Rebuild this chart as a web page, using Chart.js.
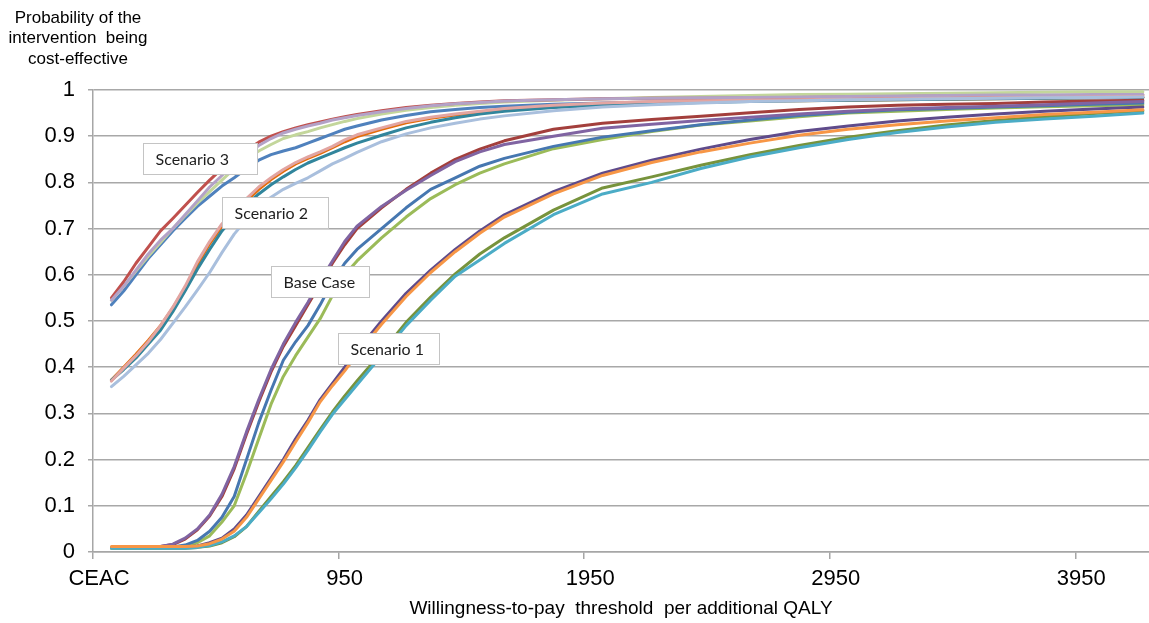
<!DOCTYPE html>
<html>
<head>
<meta charset="utf-8">
<script src="https://cdn.jsdelivr.net/npm/chart.js@4.4.1/dist/chart.umd.min.js"></script>
<style>
html,body{margin:0;padding:0;background:#fff;}
#wrap{width:1149px;height:623px;position:relative;}
</style>
</head>
<body>
<div id="wrap"><canvas id="c" width="1149" height="623"></canvas></div>
<script>
// Willingness-to-pay thresholds (x values)
const thresholds = [0,50,100,150,200,250,300,350,400,450,500,550,600,650,700,750,800,850,900,950,1000,1100,1200,1300,1400,1500,1600,1800,2000,2200,2400,2600,2800,3000,3200,3400,3600,3800,4000,4200];

// Axis tick labels (category centre values) and their labels
const xTickValues = [-50, 950, 1950, 2950, 3950];
const xTickLabels = ['CEAC', '950', '1950', '2950', '3950'];
const yTickValues = [0,0.1,0.2,0.3,0.4,0.5,0.6,0.7,0.8,0.9,1];
const yTickLabels = ['0','0.1','0.2','0.3','0.4','0.5','0.6','0.7','0.8','0.9','1'];

// Base Case
const baseRed    = [0.01,0.01,0.01,0.01,0.012,0.016,0.028,0.048,0.078,0.12,0.18,0.255,0.325,0.39,0.445,0.49,0.535,0.58,0.625,0.665,0.70,0.745,0.785,0.82,0.85,0.872,0.89,0.915,0.928,0.936,0.943,0.951,0.958,0.963,0.967,0.969,0.971,0.974,0.976,0.978];
const basePurple = [0.01,0.01,0.01,0.01,0.012,0.017,0.03,0.05,0.08,0.125,0.185,0.26,0.33,0.395,0.45,0.497,0.54,0.587,0.63,0.672,0.705,0.748,0.783,0.815,0.845,0.866,0.882,0.90,0.917,0.926,0.934,0.941,0.948,0.954,0.959,0.962,0.965,0.968,0.972,0.975];
const baseBlue   = [0.01,0.01,0.01,0.01,0.01,0.011,0.015,0.025,0.045,0.075,0.12,0.20,0.28,0.35,0.415,0.455,0.49,0.535,0.585,0.625,0.655,0.70,0.745,0.785,0.81,0.835,0.852,0.878,0.898,0.912,0.925,0.935,0.945,0.952,0.957,0.96,0.963,0.966,0.969,0.972];
const baseGreen  = [0.01,0.01,0.01,0.01,0.01,0.01,0.012,0.02,0.035,0.065,0.10,0.17,0.245,0.32,0.38,0.425,0.465,0.505,0.555,0.60,0.63,0.68,0.725,0.765,0.795,0.82,0.84,0.873,0.893,0.91,0.924,0.933,0.942,0.95,0.954,0.958,0.961,0.964,0.966,0.968];

// Scenario 1
const s1Purple = [0.01,0.01,0.01,0.01,0.01,0.01,0.011,0.013,0.02,0.03,0.05,0.08,0.12,0.16,0.20,0.245,0.285,0.33,0.365,0.40,0.435,0.50,0.56,0.61,0.655,0.695,0.73,0.78,0.82,0.848,0.872,0.893,0.91,0.922,0.933,0.941,0.948,0.954,0.959,0.963];
const s1Orange = [0.012,0.012,0.012,0.012,0.012,0.012,0.012,0.013,0.018,0.028,0.045,0.075,0.115,0.155,0.195,0.238,0.28,0.325,0.36,0.392,0.428,0.493,0.553,0.605,0.65,0.69,0.725,0.775,0.815,0.843,0.866,0.885,0.902,0.915,0.925,0.933,0.94,0.947,0.952,0.957];
const s1Olive  = [0.008,0.008,0.008,0.008,0.008,0.008,0.008,0.01,0.013,0.02,0.033,0.055,0.088,0.12,0.152,0.187,0.226,0.265,0.303,0.338,0.37,0.432,0.497,0.552,0.602,0.645,0.68,0.74,0.788,0.812,0.837,0.86,0.88,0.898,0.912,0.924,0.934,0.942,0.949,0.955];
const s1Cyan   = [0.008,0.008,0.008,0.008,0.008,0.008,0.008,0.01,0.014,0.022,0.035,0.055,0.085,0.115,0.147,0.182,0.22,0.26,0.298,0.33,0.362,0.425,0.49,0.545,0.597,0.632,0.668,0.73,0.775,0.80,0.83,0.855,0.875,0.893,0.908,0.92,0.93,0.937,0.943,0.95];

// Scenario 2
const s2Orange    = [0.372,0.40,0.428,0.458,0.49,0.528,0.572,0.622,0.667,0.705,0.735,0.76,0.785,0.806,0.824,0.84,0.852,0.863,0.875,0.888,0.899,0.915,0.929,0.939,0.946,0.952,0.957,0.964,0.969,0.972,0.974,0.976,0.977,0.978,0.979,0.98,0.981,0.982,0.983,0.984];
const s2Pink      = [0.37,0.398,0.425,0.455,0.49,0.53,0.575,0.628,0.672,0.71,0.74,0.765,0.79,0.81,0.828,0.843,0.855,0.866,0.878,0.892,0.903,0.918,0.932,0.941,0.948,0.954,0.96,0.967,0.972,0.975,0.977,0.978,0.979,0.98,0.981,0.982,0.983,0.984,0.985,0.986];
const s2Teal      = [0.372,0.395,0.42,0.45,0.48,0.52,0.565,0.612,0.655,0.695,0.725,0.752,0.775,0.795,0.812,0.828,0.842,0.853,0.864,0.875,0.885,0.902,0.918,0.93,0.94,0.948,0.954,0.962,0.967,0.97,0.973,0.975,0.977,0.978,0.979,0.98,0.981,0.982,0.983,0.984];
const s2LightBlue = [0.358,0.38,0.405,0.43,0.46,0.495,0.53,0.567,0.605,0.648,0.688,0.72,0.745,0.768,0.785,0.798,0.81,0.825,0.84,0.852,0.865,0.888,0.905,0.918,0.928,0.937,0.944,0.955,0.963,0.968,0.972,0.975,0.977,0.979,0.98,0.981,0.982,0.983,0.984,0.985];

// Scenario 3
const s3Red      = [0.55,0.585,0.625,0.66,0.695,0.722,0.75,0.778,0.805,0.83,0.852,0.87,0.887,0.90,0.91,0.918,0.925,0.931,0.937,0.942,0.947,0.955,0.962,0.967,0.971,0.974,0.977,0.979,0.981,0.982,0.982,0.983,0.984,0.985,0.986,0.987,0.987,0.988,0.988,0.989];
const s3Lavender = [0.545,0.575,0.61,0.645,0.675,0.70,0.73,0.76,0.79,0.815,0.84,0.86,0.88,0.895,0.907,0.915,0.922,0.928,0.935,0.94,0.945,0.953,0.96,0.966,0.97,0.973,0.976,0.979,0.981,0.982,0.983,0.984,0.985,0.986,0.987,0.988,0.989,0.989,0.99,0.99];
const s3Green    = [0.545,0.575,0.608,0.64,0.67,0.70,0.728,0.755,0.78,0.805,0.83,0.85,0.868,0.882,0.895,0.903,0.91,0.918,0.925,0.932,0.938,0.948,0.956,0.962,0.967,0.971,0.974,0.978,0.981,0.984,0.986,0.988,0.99,0.991,0.992,0.993,0.994,0.995,0.996,0.996];
const s3Blue     = [0.535,0.565,0.60,0.635,0.665,0.695,0.722,0.748,0.77,0.792,0.81,0.83,0.848,0.86,0.868,0.875,0.885,0.895,0.905,0.915,0.922,0.935,0.945,0.953,0.958,0.962,0.965,0.969,0.972,0.974,0.976,0.977,0.978,0.979,0.98,0.981,0.982,0.983,0.983,0.984];

// Text-box annotations, anchored at (threshold, probability) of their top-left corner
const noteLabels = ['Scenario 3', 'Scenario 2', 'Base Case', 'Scenario 1'];
const noteX = [127, 452, 648, 921];
const noteY = [0.885, 0.769, 0.619, 0.473];
const noteWidths = [114, 106, 98, 101];

const yTitleLines = ['Probability of the', 'intervention  being', 'cost-effective'];
const xTitle = 'Willingness-to-pay  threshold  per additional QALY';

function series(label, values, color) {
  return {
    label: label,
    data: thresholds.map((t, i) => ({x: t, y: values[i]})),
    borderColor: color,
    backgroundColor: color,
    borderWidth: 3,
    borderJoinStyle: 'round',
    borderCapStyle: 'round',
    pointRadius: 0,
    pointHoverRadius: 0,
    tension: 0,
    fill: false
  };
}

// First dataset is drawn on top
const datasets = [
  series('Scenario 1 - A', s1Orange, '#F79646'),
  series('Scenario 1 - B', s1Cyan, '#4BACC6'),
  series('Scenario 1 - C', s1Purple, '#5F4B8B'),
  series('Scenario 1 - D', s1Olive, '#77933C'),
  series('Base Case - A', basePurple, '#8064A2'),
  series('Base Case - B', baseBlue, '#4677B0'),
  series('Base Case - C', baseGreen, '#9BBB59'),
  series('Base Case - D', baseRed, '#A33F3C'),
  series('Scenario 2 - A', s2LightBlue, '#A9BFDD'),
  series('Scenario 2 - B', s2Pink, '#E2A5A2'),
  series('Scenario 2 - C', s2Teal, '#31859C'),
  series('Scenario 2 - D', s2Orange, '#E46C0A'),
  series('Scenario 3 - A', s3Lavender, '#B3A2C7'),
  series('Scenario 3 - B', s3Red, '#C0504D'),
  series('Scenario 3 - C', s3Green, '#C3D69B'),
  series('Scenario 3 - D', s3Blue, '#4F81BD')
];

const HALF_CATEGORY = 25; // tick marks sit between categories

const notesPlugin = {
  id: 'notes',
  afterDatasetsDraw(chart) {
    const ctx = chart.ctx;
    const xs = chart.scales.x, ys = chart.scales.y;
    ctx.save();
    ctx.font = '16px Lato, "Open Sans", sans-serif';
    ctx.textBaseline = 'middle';
    ctx.textAlign = 'left';
    noteLabels.forEach((txt, i) => {
      const left = Math.round(xs.getPixelForValue(noteX[i])) + 0.5;
      const top = Math.round(ys.getPixelForValue(noteY[i])) + 0.5;
      const w = noteWidths[i], h = 31;
      ctx.fillStyle = '#FFFFFF';
      ctx.fillRect(left, top, w, h);
      ctx.strokeStyle = '#C4C4C4';
      ctx.lineWidth = 1;
      ctx.strokeRect(left, top, w, h);
      ctx.fillStyle = '#1E1E1E';
      ctx.fillText(txt, left + 12, top + h / 2 + 1);
    });
    ctx.restore();
  },
  afterDraw(chart) {
    const ctx = chart.ctx;
    ctx.save();
    ctx.font = '17px "Liberation Sans", Arial, sans-serif';
    ctx.fillStyle = '#000';
    ctx.textAlign = 'center';
    ctx.textBaseline = 'middle';
    const cx = chart.chartArea.left - 15;
    yTitleLines.forEach((line, i) => {
      ctx.fillText(line, cx, 18 + i * 20.5);
    });
    ctx.restore();
  }
};

new Chart(document.getElementById('c'), {
  type: 'line',
  data: { datasets: datasets },
  plugins: [notesPlugin],
  options: {
    responsive: false,
    animation: false,
    devicePixelRatio: 1,
    layout: { padding: { top: 90, left: 0, right: 0, bottom: 0 } },
    plugins: {
      legend: { display: false },
      tooltip: { enabled: false },
      title: { display: false }
    },
    scales: {
      x: {
        type: 'linear',
        min: xTickValues[0] - HALF_CATEGORY,
        max: thresholds[thresholds.length - 1] + HALF_CATEGORY,
        afterBuildTicks(scale) {
          scale.ticks = xTickValues.map(v => ({ value: v - HALF_CATEGORY }));
        },
        afterFit(scale) { scale.height = 71; },
        ticks: {
          autoSkip: false,
          maxRotation: 0,
          labelOffset: 6,
          padding: 7,
          color: '#000',
          font: { family: '"Liberation Sans", Arial, sans-serif', size: 22 },
          callback: (value, index) => xTickLabels[index]
        },
        grid: {
          display: true,
          drawOnChartArea: false,
          drawTicks: true,
          tickLength: 7,
          color: '#A6A6A6',
          lineWidth: 1.5
        },
        border: { display: true, color: '#A6A6A6', width: 1.5 },
        title: {
          display: true,
          text: xTitle,
          color: '#000',
          font: { family: '"Liberation Sans", Arial, sans-serif', size: 19 },
          padding: { top: 0, bottom: 3 }
        }
      },
      y: {
        type: 'linear',
        min: 0,
        max: 1,
        afterBuildTicks(scale) {
          scale.ticks = yTickValues.map(v => ({ value: v }));
        },
        afterFit(scale) { scale.width = 93; },
        ticks: {
          padding: 13,
          color: '#000',
          font: { family: '"Liberation Sans", Arial, sans-serif', size: 22 },
          callback: (value, index) => yTickLabels[index]
        },
        grid: {
          color: '#A8A8A8',
          lineWidth: 1.5,
          tickLength: 5,
          drawTicks: true
        },
        border: { display: true, color: '#A6A6A6', width: 1.5 }
      }
    }
  }
});
</script>
</body>
</html>
